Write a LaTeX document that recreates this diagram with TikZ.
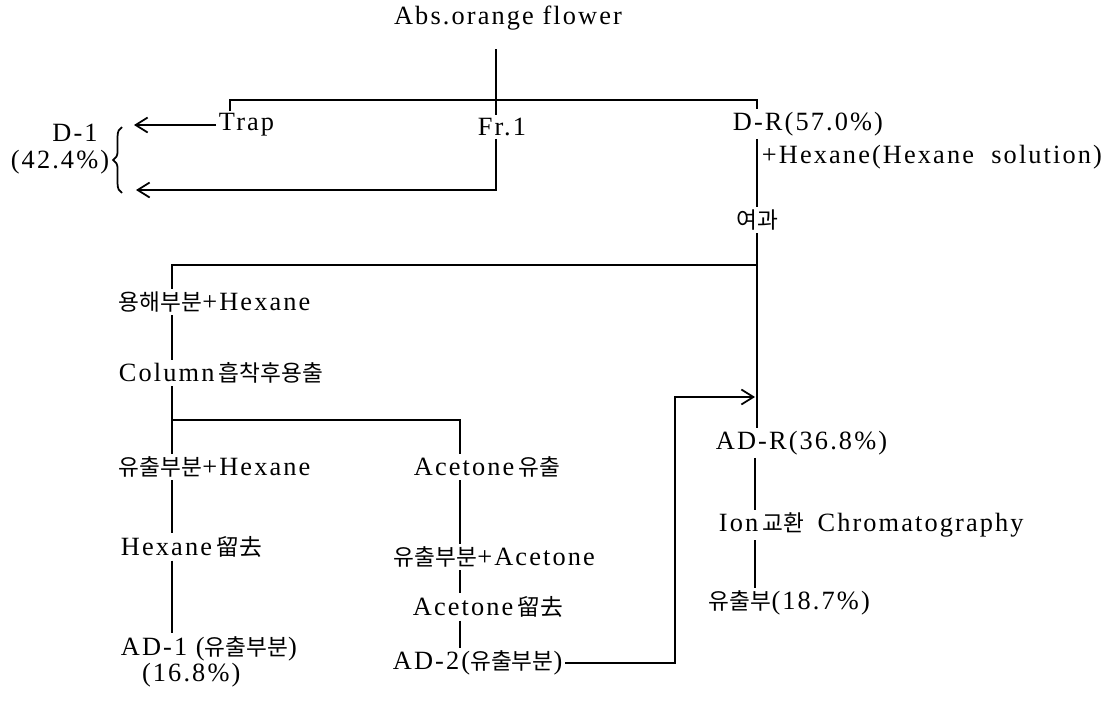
\documentclass[tikz,border=0pt]{standalone}
\usepackage{fontspec}
\setmainfont{Liberation Serif}[LetterSpace=8]
\newfontfamily\kr{Noto Sans CJK KR}[Scale=0.86]
\usetikzlibrary{arrows.meta,calc,decorations.pathreplacing}

\begin{document}
\begin{tikzpicture}[
    x=0.02cm, y=-0.02cm,
    lbl/.style={inner sep=1.5pt, anchor=west, font=\fontsize{15}{17}\selectfont},
    flow/.style={line width=1pt},
    arr/.style={flow, -{Straight Barb[length=2.4mm, width=3mm]}}
]
    \useasboundingbox (0,0) rectangle (1109,703);

    % top split
    \node[lbl, anchor=center] (abs) at (508,18) {Abs.orange flower};
    \node[lbl] (trap) at (216,125) {Trap};
    \node[lbl] (fr) at (475,127) {Fr.1};
    \node[lbl] (dr) at (730,124) {D-R(57.0\%)};
    \node[lbl] (hex) at (759,157) {+Hexane(Hexane\ \ solution)};
    \node[lbl, anchor=center] (d1) at (75,133) {D-1};
    \node[lbl, anchor=center] (d1p) at (60,162) {(42.4\%)};
    \node[lbl, anchor=center] (filt) at (757,220) {\kr 여과};

    % left branch
    \node[lbl] (sol) at (116,302) {{\kr 용해부분}+Hexane};
    \node[lbl] (col) at (116,373) {Column\,{\kr 흡착후용출}};
    \node[lbl] (eluL) at (116,467) {{\kr 유출부분}+Hexane};
    \node[lbl] (hexrm) at (118,547) {Hexane\,{\kr 留去}};
    \node[lbl, align=left] (ad1) at (118,662) {AD-1 ({\kr 유출부분})\\[-1.8pt]\hspace*{0.8em}(16.8\%)};

    % acetone branch
    \node[lbl] (aceElu) at (411,467) {Acetone\,{\kr 유출}};
    \node[lbl] (eluR) at (391,557) {{\kr 유출부분}+Acetone};
    \node[lbl] (acerm) at (410,607) {Acetone\,{\kr 留去}};
    \node[lbl] (ad2) at (390,663) {AD-2({\kr 유출부분})};

    % residue
    \node[lbl] (adr) at (713,443) {AD-R(36.8\%)};
    \node[lbl] (ion) at (716,525) {Ion\,{\kr 교환}\hspace{0.5em}Chromatography};
    \node[lbl] (eluF) at (706,603) {{\kr 유출부}(18.7\%)};

    % line positions
    \coordinate (xa) at (496,0);
    \coordinate (xt) at (230,0);
    \coordinate (xr) at (757,0);
    \coordinate (xl) at (172,0);
    \coordinate (xc) at (460,0);
    \coordinate (xb) at (675,0);
    \coordinate (xm) at (755,0);
    \coordinate (yh) at (0,100);
    \coordinate (ys) at (0,265);
    \coordinate (yc) at (0,420);
    \coordinate (ya) at (0,397);
    \coordinate (brL) at (134,130);
    \coordinate (brB) at (136,190);

    \draw[flow] ($(abs.south -| xa)+(0,16)$) -- (fr.north -| xa);
    \draw[flow] (trap.north -| xt) -- (xt |- yh) -- (xr |- yh) -- (dr.north -| xr);
    \draw[arr] (trap.west) -- (trap.west -| brL);
    \draw[arr] (fr.south -| xa) -- (xa |- brB) -- (brB);
    \draw[flow, decorate, decoration={brace, amplitude=5pt}] (122,193) -- (122,127);

    \draw[flow] (dr.south -| xr) -- (filt.north -| xr);
    \draw[flow] (filt.south -| xr) -- (adr.north -| xr);
    \draw[flow] (xr |- ys) -- (xl |- ys) -- (sol.north -| xl);
    \draw[flow] (sol.south -| xl) -- (col.north -| xl);
    \draw[flow] (col.south -| xl) -- (eluL.north -| xl);
    \draw[flow] (xl |- yc) -- (xc |- yc) -- (aceElu.north -| xc);
    \draw[flow] (eluL.south -| xl) -- (hexrm.north -| xl);
    \draw[flow] (hexrm.south -| xl) -- (ad1.north -| xl);

    \draw[flow] (aceElu.south -| xc) -- (eluR.north -| xc);
    \draw[flow] (eluR.south -| xc) -- (acerm.north -| xc);
    \draw[flow] (acerm.south -| xc) -- (ad2.north -| xc);
    \draw[arr] (ad2.east) -- (ad2.east -| xb) -- (xb |- ya) -- (xm |- ya);

    \draw[flow] (adr.south -| xm) -- (ion.north -| xm);
    \draw[flow] (ion.south -| xm) -- (eluF.north -| xm);
\end{tikzpicture}
\end{document}
